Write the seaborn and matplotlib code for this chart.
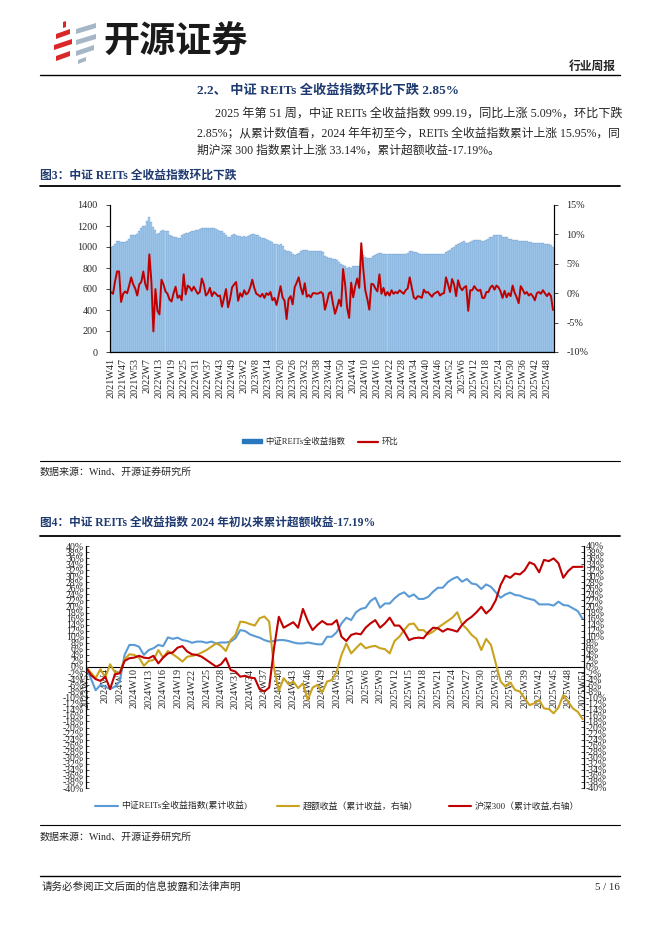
import numpy as np
import pandas as pd
import matplotlib
matplotlib.use("Agg")
import matplotlib.pyplot as plt
import seaborn as sns
from matplotlib.patches import Patch, Polygon
from matplotlib.lines import Line2D
from matplotlib.ticker import FixedLocator

# --- Chart 3 data: weekly CSI REITs total return index and week-on-week change ---
week_ranges_1 = [(2021, 41, 53), (2022, 2, 53), (2023, 1, 52), (2024, 1, 52), (2025, 1, 51)]
weeks_1 = [f"{y}W{w}" for y, a, b in week_ranges_1 for w in range(a, b + 1)]

reits_index = [
    1000, 1006, 1030, 1060, 1054, 1050, 1050, 1052, 1060, 1080,
    1111, 1112, 1112, 1120, 1150, 1180, 1197, 1200, 1245, 1283,
    1240, 1187, 1160, 1122, 1135, 1156, 1158, 1156, 1148, 1115,
    1102, 1100, 1095, 1090, 1086, 1111, 1125, 1133, 1135, 1142,
    1150, 1154, 1158, 1162, 1170, 1181, 1180, 1182, 1180, 1182,
    1178, 1180, 1172, 1164, 1155, 1148, 1130, 1118, 1092, 1100,
    1112, 1122, 1118, 1104, 1102, 1100, 1102, 1100, 1104, 1115,
    1124, 1120, 1116, 1110, 1098, 1090, 1082, 1076, 1068, 1055,
    1045, 1030, 1025, 1022, 1024, 1005, 970, 960, 958, 952,
    935, 922, 935, 945, 960, 970, 975, 968, 962, 960,
    958, 959, 958, 960, 958, 952, 915, 905, 900, 895,
    890, 885, 878, 855, 840, 832, 815, 800, 810, 800,
    815, 816, 818, 816, 880, 921, 905, 895, 892, 900,
    911, 920, 930, 943, 940, 935, 933, 932, 934, 933,
    932, 934, 933, 931, 932, 933, 935, 945, 959, 958,
    954, 948, 942, 935, 930, 935, 932, 930, 929, 930,
    931, 930, 929, 930, 931, 932, 952, 965, 975, 990,
    1002, 1015, 1025, 1038, 1045, 1054, 1040, 1035, 1052, 1058,
    1062, 1070, 1068, 1062, 1058, 1055, 1070, 1080, 1092, 1100,
    1110, 1118, 1116, 1112, 1100, 1094, 1092, 1080, 1075, 1070,
    1068, 1062, 1058, 1060, 1056, 1054, 1054, 1052, 1048, 1040,
    1038, 1038, 1036, 1036, 1034, 1030, 1028, 1026, 1022, 999.19,
]

wow_change = [
    0.2, -0.1, 2.0, 3.7, 3.7, -1.5, -0.1, 0.3, 0.0, 1.3,
    2.7, 1.5, 0.8, -0.4, 1.5, 1.9, 3.7, 1.5, 0.6, 6.6,
    2.0, -6.5, 0.7, -3.0, -3.6, 2.3, 1.5, 0.3, -0.1, -1.1,
    -1.4, 0.0, 1.1, -0.8, -0.4, -1.2, 3.2, -0.2, 1.3, 1.0,
    0.4, 1.1, 0.5, -0.1, 0.2, 2.5, 1.5, -0.4, 0.0, 0.9,
    -0.5, 0.2, -0.1, -0.5, -0.4, -2.3, -0.8, 0.7, -2.4, -1.0,
    1.0, 1.5, 1.9, -1.3, 0.0, -0.6, 0.5, -0.2, 0.1, 1.0,
    2.3, 0.9, -0.1, -0.3, -0.6, -0.1, -0.8, 0.0, -0.3, 0.2,
    -1.2, -0.8, -2.0, -0.5, 1.2, -0.7, -1.3, -4.4, -1.0, -0.5,
    -1.9, 1.0, 1.8, 2.7, 1.0, -0.2, 1.7, -0.6, -0.3, -0.7,
    0.0, 0.0, -0.1, 0.0, 0.2, -0.1, -2.8, -1.5, 0.0, 0.2,
    -1.8, -3.5, -2.4, -1.1, -2.2, 4.1, 1.5, -2.5, -4.2, 1.8,
    -0.7, 1.2, 2.5, 0.9, 8.5, 4.1, 0.5, -1.0, -2.8, 1.6,
    1.5, 0.8, 0.3, 3.2, -0.1, 0.9, -0.4, 0.2, -0.4, 0.5,
    -0.1, 0.2, 0.0, 0.5, 0.2, -0.1, 0.5, 0.8, 2.7, 1.0,
    -0.7, -1.0, -0.5, -0.6, -0.8, 0.6, 0.1, 0.2, -0.2, -0.6,
    -0.1, 0.1, 0.3, -0.4, -0.1, 0.0, 2.7, 1.5, 0.2, 2.4,
    1.5, -0.5, 2.2, 1.0, 0.5, 1.0, 1.2, -3.0, 0.5, 0.5,
    1.2, 0.7, 0.4, 0.6, -0.8, -0.8, 0.2, 0.2, 1.0, 1.3,
    0.6, 1.3, 1.0, 0.3, -0.8, 0.4, -0.7, 0.0, -0.5, 1.3,
    0.1, -0.7, -1.7, 1.2, 0.6, -0.1, 0.2, -0.4, -0.1, -0.5,
    -1.2, 0.0, 0.2, -0.1, 0.5, 0.0, -0.5, 0.0, -0.5, -2.85,
]

# --- Chart 4 data: cumulative returns since start of 2024 (%) ---
weeks_2 = ["2023W52"] + [f"2024W{w}" for w in range(1, 53)] + [f"2025W{w}" for w in range(1, 52)]

reits_cum = [
    0, -3.7, -7.7, -5.9, -6.5, -7.3, -6.5, -4.8, 4.0, 7.3,
    7.3, 6.7, 4.0, 5.6, 6.2, 7.3, 6.9, 9.8, 9.3, 9.7,
    8.9, 8.6, 8.0, 8.4, 8.4, 8.0, 8.4, 7.8, 8.1, 8.1,
    8.4, 9.5, 12.2, 11.9, 10.8, 10.2, 9.7, 8.9, 8.4, 8.6,
    8.9, 8.9, 8.6, 8.1, 7.8, 7.8, 8.1, 7.8, 7.5, 7.5,
    10.0, 10.0, 11.5, 14.4, 16.3, 15.5, 18.1, 19.2, 19.6, 21.8,
    22.9, 19.6, 21.0, 21.0, 22.7, 24.0, 24.7, 23.2, 24.0, 22.5,
    22.5, 23.2, 24.9, 26.2, 26.2, 28.0, 29.1, 29.8, 28.2, 29.1,
    27.6, 27.3, 25.8, 27.3, 26.5, 24.7, 22.9, 24.0, 24.6, 23.8,
    23.6, 22.9, 22.5, 22.1, 20.7, 20.7, 20.7, 20.3, 21.6, 20.5,
    20.3, 19.4, 18.5, 15.95,
]

excess_cum = [
    0, -1.8, -3.7, -0.7, -3.5, 0.9, -1.8, -1.8, 2.6, 4.2,
    4.0, 3.1, 0.4, 2.0, 2.3, 5.6, 3.1, 5.3, 4.2, 3.1,
    1.8, 3.4, 3.7, 4.0, 4.8, 5.6, 6.7, 7.8, 7.0, 5.3,
    8.9, 10.6, 15.0, 14.8, 14.2, 13.7, 16.1, 16.7, 15.0, -0.5,
    -7.9, -3.7, -5.7, -4.8, -7.0, -5.4, -10.9, -6.8, -5.9, -8.4,
    -4.8, -4.3, -1.5, 4.0, 7.8, 4.5, 6.2, 7.8, 6.2, 6.7,
    7.0, 6.2, 5.9, 4.5, 8.6, 10.0, 12.2, 14.1, 14.4, 12.2,
    12.2, 10.8, 11.7, 13.0, 14.1, 15.2, 16.3, 18.1, 14.1, 12.6,
    10.6, 9.3, 5.6, 9.3, 7.3, 1.2, -4.8, -6.5, -5.1, -7.6,
    -8.1, -10.4, -12.6, -12.0, -10.9, -13.7, -13.9, -15.3, -13.4, -9.3,
    -11.5, -13.7, -14.8, -17.19,
]

hs300_cum = [
    0, -2.6, -4.0, -4.6, -3.2, -7.3, -2.4, -2.1, 2.0, 2.9,
    3.1, 3.7, 3.1, 2.9, 3.7, 1.2, 3.1, 4.5, 4.8, 6.4,
    6.9, 5.1, 4.2, 4.0, 3.4, 2.3, 1.2, 0.1, 0.9, 2.9,
    -1.0, -1.5, -3.2, -2.9, -3.5, -3.7, -7.3, -8.1, -6.8, 6.2,
    16.6, 13.0, 13.9, 14.8, 13.0, 19.2, 15.2, 12.2, 13.9, 15.2,
    14.1, 14.1, 15.5, 10.0, 8.6, 10.6, 11.1, 10.8, 13.0, 14.4,
    15.5, 13.0, 14.4, 16.3, 13.7, 13.7, 11.7, 8.9, 9.5, 9.7,
    9.5, 11.5, 13.0, 12.8, 11.7, 12.6, 12.2, 11.7, 13.9, 15.5,
    16.6, 18.1, 19.9, 17.7, 19.2, 22.1, 27.1, 30.2, 29.5, 30.9,
    30.6, 32.0, 34.6, 33.9, 31.3, 35.4, 35.0, 35.9, 34.3, 29.5,
    31.7, 33.1, 33.1, 33.14,
]

tick_idx_2 = [0] + list(range(4, 104, 3))

# --- Colours ---
NAVY = "#1F3A70"
BAR_FACE = "#a9cdee"
BAR_EDGE = "#2a6db3"
RED = "#C00000"
LBLUE = "#5B9BD5"
GOLD = "#C9A21E"

sns.set_style("white")
plt.rcParams["font.family"] = ["Liberation Serif", "Noto Sans CJK SC"]
plt.rcParams["axes.unicode_minus"] = False

W, H = 662, 936
fig = plt.figure(figsize=(W / 100, H / 100), dpi=100)


def rect(x0, y0, x1, y1):
    return [x0 / W, 1 - y1 / H, (x1 - x0) / W, (y1 - y0) / H]


# page layer in pixel coordinates
page = fig.add_axes([0, 0, 1, 1])
page.set_xlim(0, W)
page.set_ylim(H, 0)
page.axis("off")

# logo
red_bars = [[(56, 34), (70, 29), (70, 34), (56, 39)],
            [(54, 45), (72, 39), (72, 44), (54, 50)],
            [(56, 56), (70, 51), (70, 56), (56, 61)],
            [(63, 22), (66, 21), (66, 27), (63, 28)]]
grey_bars = [[(76, 29), (96, 23), (96, 28), (76, 34)],
             [(76, 40), (96, 34), (96, 39), (76, 45)],
             [(76, 51), (94, 45), (94, 50), (76, 56)],
             [(78, 60), (86, 57), (86, 61), (78, 64)]]
for pts in red_bars:
    page.add_patch(Polygon(pts, closed=True, color="#D8282A", lw=0))
for pts in grey_bars:
    page.add_patch(Polygon(pts, closed=True, color="#A5B7C6", lw=0))
page.text(103, 42, "开源证券", fontsize=26, fontweight="bold", family=["Noto Sans CJK SC"],
          va="center", ha="left", color="#1a1a1a")
page.text(616, 67, "行业周报", fontsize=8.5, fontweight="bold", ha="right", va="center")
page.plot([40, 620], [74.5, 74.5], color="black", lw=1.0)

page.text(197, 90, "2.2、 中证 REITs 全收益指数环比下跌 2.85%", fontsize=9.5, fontweight="bold",
          color=NAVY, va="center")
para = ["2025 年第 51 周，中证 REITs 全收益指数 999.19，同比上涨 5.09%，环比下跌",
        "2.85%；从累计数值看，2024 年年初至今，REITs 全收益指数累计上涨 15.95%，同",
        "期沪深 300 指数累计上涨 33.14%，累计超额收益-17.19%。"]
page.text(215, 114, para[0], fontsize=8.75, va="center")
page.text(197, 133, para[1], fontsize=8.5, va="center")
page.text(197, 151, para[2], fontsize=8.5, va="center")

page.text(40, 176, "图3：中证 REITs 全收益指数环比下跌", fontsize=8.5, fontweight="bold",
          color=NAVY, va="center")
page.plot([40, 620], [186, 186], color="black", lw=1.3)
page.plot([40, 620], [461, 461], color="black", lw=0.8)
page.text(40, 472, "数据来源：Wind、开源证券研究所", fontsize=7.2, va="center")

page.text(40, 523, "图4：中证 REITs 全收益指数 2024 年初以来累计超额收益-17.19%", fontsize=8.4,
          fontweight="bold", color=NAVY, va="center")
page.plot([40, 620], [536, 536], color="black", lw=1.3)
page.plot([40, 620], [825, 825], color="black", lw=0.8)
page.text(40, 837, "数据来源：Wind、开源证券研究所", fontsize=7.2, va="center")

page.plot([40, 620], [876, 876], color="black", lw=1.0)
page.text(42, 887, "请务必参阅正文后面的信息披露和法律声明", fontsize=7.6, va="center")
page.text(620, 887, "5 / 16", fontsize=7.8, va="center", ha="right")

# --- Chart 3 ---
df1 = pd.DataFrame({"week": weeks_1, "index": reits_index, "wow": wow_change})
ax1 = fig.add_axes(rect(110, 205, 554, 352))
ax1.patch.set_alpha(0)
sns.barplot(data=df1, x="week", y="index", ax=ax1, color=BAR_FACE, saturation=1,
            width=1.0, edgecolor=BAR_EDGE, linewidth=0.15)
ax1b = ax1.twinx()
sns.lineplot(x=np.arange(len(weeks_1)), y=df1["wow"], ax=ax1b, color=RED, lw=1.4)

ax1.set_ylim(0, 1400)
ax1.set_yticks(range(0, 1401, 200))
ax1b.set_ylim(-10, 15)
ax1b.set_yticks(range(-10, 16, 5))
ax1b.set_yticklabels([f"{v}%" for v in range(-10, 16, 5)])
ax1.set_xlim(-0.5, len(weeks_1) - 0.5)
ax1.xaxis.set_major_locator(FixedLocator(list(range(0, len(weeks_1), 6))))
ax1.set_xticklabels(weeks_1[::6], rotation=90)
ax1.xaxis.set_minor_locator(FixedLocator(list(range(len(weeks_1)))))
for a in (ax1, ax1b):
    a.set_xlabel("")
    a.set_ylabel("")
    a.spines["top"].set_visible(False)
    for s in ("left", "right", "bottom"):
        a.spines[s].set_color("black")
        a.spines[s].set_linewidth(0.8)
ax1.tick_params(axis="x", which="major", direction="out", length=3, width=0.6, labelsize=7.3, pad=1.5)
ax1.tick_params(axis="x", which="minor", direction="out", length=2.5, width=0.5, color="#1a3f6e")
ax1.tick_params(axis="y", left=True, direction="out", length=3, width=0.6, labelsize=7.3, pad=6)
ax1b.tick_params(axis="y", right=True, direction="out", length=3, width=0.6, labelsize=7.3, pad=6)

fig.legend(handles=[Patch(color="#2878c0"), Line2D([], [], color=RED, lw=1.6)],
           labels=["中证REITs全收益指数", "环比"], loc="center",
           bbox_to_anchor=(320 / W, 1 - 442 / H), ncol=2, frameon=False, fontsize=6.0,
           handlelength=2.4, handleheight=0.45, handletextpad=0.4, columnspacing=1.6)

# --- Chart 4 ---
df2 = pd.DataFrame({"week": weeks_2, "x": np.arange(len(weeks_2)), "reits": reits_cum,
                    "excess": excess_cum, "hs300": hs300_cum})
ax2 = fig.add_axes(rect(86, 546, 584, 788))
ax2.patch.set_alpha(0)
sns.lineplot(data=df2, x="x", y="reits", ax=ax2, color=LBLUE, lw=1.5)
ax2b = ax2.twinx()
sns.lineplot(data=df2, x="x", y="excess", ax=ax2b, color=GOLD, lw=1.5)
sns.lineplot(data=df2, x="x", y="hs300", ax=ax2b, color=RED, lw=1.5)

yt = list(range(-40, 41, 2))
for a in (ax2, ax2b):
    a.set_ylim(-40, 40)
    a.set_yticks(yt)
    a.set_yticklabels([f"{v}%" for v in yt])
    a.set_xlabel("")
    a.set_ylabel("")
    a.spines["top"].set_visible(False)
    for s in ("left", "right", "bottom"):
        a.spines[s].set_color("black")
        a.spines[s].set_linewidth(0.8)
ax2b.spines["bottom"].set_visible(False)
ax2.spines["bottom"].set_position(("data", 0))
ax2.set_xlim(0, len(weeks_2) - 0.7)
ax2.xaxis.set_major_locator(FixedLocator(tick_idx_2))
ax2.set_xticklabels([weeks_2[i] for i in tick_idx_2], rotation=90)
ax2.xaxis.set_minor_locator(FixedLocator(list(range(len(weeks_2)))))
ax2.tick_params(axis="x", which="major", direction="in", length=3.5, width=0.7, labelsize=7.3, pad=1)
ax2.tick_params(axis="x", which="minor", direction="in", length=3, width=0.6)
ax2.tick_params(axis="y", left=True, direction="in", length=2.5, width=0.6, labelsize=7.0, pad=1.5)
ax2b.tick_params(axis="y", right=True, direction="in", length=2.5, width=0.6, labelsize=7.0, pad=1.5)

fig.legend(handles=[Line2D([], [], color=LBLUE, lw=1.5), Line2D([], [], color=GOLD, lw=1.5),
                    Line2D([], [], color=RED, lw=1.5)],
           labels=["中证REITs全收益指数(累计收益)", "超额收益（累计收益，右轴）", "沪深300（累计收益,右轴）"],
           loc="center", bbox_to_anchor=(337 / W, 1 - 806 / H), ncol=3, frameon=False,
           fontsize=6.4, handlelength=2.5, handletextpad=0.4, columnspacing=3.4)

fig.savefig("out.png", dpi=100)
